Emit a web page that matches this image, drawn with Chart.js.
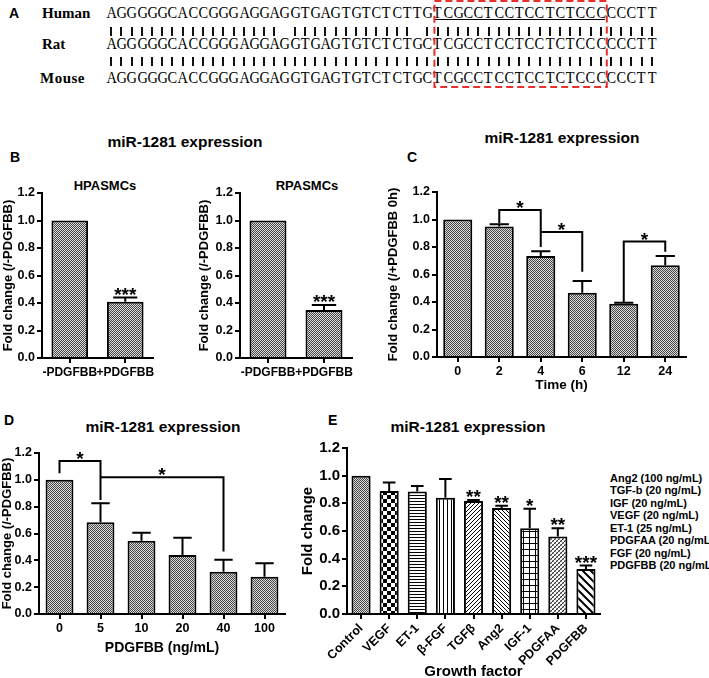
<!DOCTYPE html>
<html>
<head>
<meta charset="utf-8">
<script src="https://cdn.jsdelivr.net/npm/chart.js@4.4.1/dist/chart.umd.min.js"></script>
<style>
  body { margin: 0; width: 709px; height: 678px; overflow: hidden; background: #fff; position: relative;
         font-family: 'Liberation Sans', Arial, sans-serif; color: #000; }
  canvas { position: absolute; }
  .t { position: absolute; font-weight: bold; white-space: nowrap; line-height: 1; }
  .c { transform: translate(-50%, -50%); }
  .l { transform: translate(0, -50%); }
  .seq { position: absolute; font-family: 'Liberation Serif', 'Times New Roman', serif; font-size: 16px;
         line-height: 16px; width: 10.2px; text-align: center; transform: scaleX(0.9); }
  .tick { position: absolute; width: 2px; height: 9px; background: #111; }
</style>
</head>
<body>
<script>
"use strict";

// sequences (panel A)
const humanSeq = 'AGGGGGCACCGGGAGGAGGTGAGTGTCTCTTGTCGCCTCCTCCTCTCCCCCCTT';
const ratSeq = 'AGGGGGCACCGGGAGGAGGTGAGTGTCTCTGCTCGCCTCCTCCTCTCCCCCCTT';
const mouseSeq = 'AGGGGGCACCGGGAGGAGGTGAGTGTCTCTGCTCGCCTCCTCCTCTCCCCCCTT';
const seedStart = 32;
const seedEnd = 49;
const gapsHumanRat = [17, 30];

// panel B
const bLabels = ['-PDGFBB', '+PDGFBB'];
const hpasmcMean = [1.0, 0.41];
const hpasmcSem = [0, 0.03];
const rpasmcMean = [1.0, 0.35];
const rpasmcSem = [0, 0.035];
const bStars = ['', '***'];

// panel C
const timeLabels = ['0', '2', '4', '6', '12', '24'];
const timeMean = [1.0, 0.95, 0.735, 0.468, 0.388, 0.668];
const timeSem = [0, 0.015, 0.035, 0.085, 0.007, 0.067];
const timeBrackets = [
  { from: 1, to: 2, y: 1.07, fromY: 0.975, toY: 0.80 },
  { from: 2, to: 3, y: 0.91, fromY: 0.91, toY: 0.62 },
  { from: 4, to: 5, y: 0.84, fromY: 0.40, toY: 0.765 }
];

// panel D
const doseLabels = ['0', '5', '10', '20', '40', '100'];
const doseMean = [1.0, 0.683, 0.546, 0.44, 0.315, 0.278];
const doseSem = [0, 0.142, 0.06, 0.129, 0.09, 0.1];
const doseBrackets = [
  { from: 0, to: 1, y: 1.14, fromY: 1.05, toY: 0.85 },
  { from: 1, to: 4, y: 1.02, fromY: 1.02, toY: 0.465 }
];

// panel E
const factorLabels = ['Control', 'VEGF', 'ET-1', 'β-FGF', 'TGFβ', 'Ang2', 'IGF-1', 'PDGFAA', 'PDGFBB'];
const factorMean = [1.0, 0.889, 0.885, 0.84, 0.817, 0.766, 0.62, 0.56, 0.325];
const factorSem = [0, 0.061, 0.04, 0.136, 0.008, 0.017, 0.14, 0.06, 0.025];
const factorStars = ['', '', '', '', '**', '**', '*', '**', '***'];
const factorLegend = ['Ang2 (100 ng/mL)', 'TGF-b (20 ng/mL)', 'IGF (20 ng/mL)', 'VEGF (20 ng/mL)',
  'ET-1 (25 ng/mL)', 'PDGFAA (20 ng/mL)', 'FGF (20 ng/mL)', 'PDGFBB (20 ng/mL'];

const FONT = "'Liberation Sans', Arial, sans-serif";

// html text helper
function text(str, x, y, size, cls, extra) {
  const d = document.createElement('div');
  d.className = 't ' + cls;
  d.textContent = str;
  d.style.left = x + 'px';
  d.style.top = y + 'px';
  d.style.fontSize = size + 'px';
  if (extra) Object.assign(d.style, extra);
  document.body.appendChild(d);
  return d;
}

// ---- panel A ----
const pitch = 10.2;
const seqLeft = 106;
function seqRow(seq, top) {
  for (let i = 0; i < seq.length; i++) {
    const s = document.createElement('div');
    s.className = 'seq';
    s.textContent = seq[i];
    s.style.left = (seqLeft + i * pitch) + 'px';
    s.style.top = top + 'px';
    document.body.appendChild(s);
  }
}
function barRow(n, top, gaps) {
  for (let i = 0; i < n; i++) {
    if (gaps.includes(i)) continue;
    const b = document.createElement('div');
    b.className = 'tick';
    b.style.left = (seqLeft + (i + 0.5) * pitch - 1) + 'px';
    b.style.top = top + 'px';
    document.body.appendChild(b);
  }
}
const serifBold = { fontFamily: "'Liberation Serif', 'Times New Roman', serif" };
text('A', 9, 13, 14, 'l');
text('Human', 42, 13, 15, 'l', serifBold);
text('Rat', 42, 44, 15, 'l', serifBold);
text('Mouse', 40, 78, 15, 'l', Object.assign({ letterSpacing: '0.5px' }, serifBold));
seqRow(humanSeq, 5);
barRow(humanSeq.length, 27, gapsHumanRat);
seqRow(ratSeq, 35.5);
barRow(ratSeq.length, 57, []);
seqRow(mouseSeq, 70);

const ul = document.createElement('div');
ul.style.cssText = 'position:absolute;height:1px;background:#000;';
ul.style.left = (seqLeft + seedStart * pitch + 2) + 'px';
ul.style.width = ((seedEnd - seedStart) * pitch - 3) + 'px';
ul.style.top = '19px';
document.body.appendChild(ul);

const box = document.createElementNS('http://www.w3.org/2000/svg', 'svg');
box.setAttribute('width', '709');
box.setAttribute('height', '92');
box.style.cssText = 'position:absolute;left:0;top:0;';
const bx0 = seqLeft + seedStart * pitch + 2, bx1 = seqLeft + seedEnd * pitch + 1;
box.innerHTML = '<rect x="' + bx0 + '" y="1" width="' + (bx1 - bx0) + '" height="86" fill="none" ' +
  'stroke="#e5302c" stroke-width="2" stroke-dasharray="7,4"/>';
document.body.appendChild(box);

// ---- patterns ----
function pattern(size, draw) {
  const c = document.createElement('canvas');
  c.width = c.height = size;
  const g = c.getContext('2d');
  g.fillStyle = '#fff';
  g.fillRect(0, 0, size, size);
  g.fillStyle = '#000';
  g.strokeStyle = '#000';
  draw(g, size);
  return g.createPattern(c, 'repeat');
}
function diag(g, s, dir) {
  g.beginPath();
  if (dir > 0) {
    g.moveTo(-1, 1); g.lineTo(1, -1);
    g.moveTo(0, s); g.lineTo(s, 0);
    g.moveTo(s - 1, s + 1); g.lineTo(s + 1, s - 1);
  } else {
    g.moveTo(-1, s - 1); g.lineTo(1, s + 1);
    g.moveTo(0, 0); g.lineTo(s, s);
    g.moveTo(s - 1, -1); g.lineTo(s + 1, 1);
  }
  g.stroke();
}
const fineGray = pattern(2, (g) => {
  g.fillStyle = '#dcdcdc'; g.fillRect(0, 0, 2, 2);
  g.fillStyle = '#444'; g.fillRect(0, 0, 1, 1); g.fillRect(1, 1, 1, 1);
});
const checker = pattern(8, (g) => { g.fillRect(0, 0, 4, 4); g.fillRect(4, 4, 4, 4); });
const hLines = pattern(3, (g) => { g.fillRect(0, 0, 3, 1); });
const vLines = pattern(4, (g) => { g.fillRect(0, 0, 1, 4); });
const fwdFine = pattern(4, (g, s) => { g.lineWidth = 1; diag(g, s, 1); });
const backFine = pattern(4, (g, s) => { g.lineWidth = 1; diag(g, s, -1); });
const grid = pattern(6, (g) => { g.fillRect(0, 0, 6, 1); g.fillRect(0, 0, 1, 6); });
const crossFine = pattern(4, (g, s) => { g.lineWidth = 0.8; diag(g, s, 1); g.globalAlpha = 0.5; diag(g, s, -1); });
const backWide = pattern(8, (g, s) => { g.lineWidth = 2; diag(g, s, -1); });
const factorFills = [fineGray, checker, hLines, vLines, fwdFine, backFine, grid, crossFine, backWide];

// ---- error bars, stars and brackets ----
function marks(means, sems, stars, brackets) {
  return {
    id: 'marks',
    afterDatasetsDraw(chart) {
      const ctx = chart.ctx;
      const ys = chart.scales.y;
      const bars = chart.getDatasetMeta(0).data;
      ctx.save();
      ctx.strokeStyle = '#000';
      ctx.fillStyle = '#000';
      ctx.lineWidth = 2;
      ctx.textAlign = 'center';
      ctx.textBaseline = 'alphabetic';
      ctx.font = 'bold 19px ' + FONT;
      means.forEach((m, i) => {
        const bar = bars[i];
        let top = ys.getPixelForValue(m);
        if (sems[i]) {
          const e = ys.getPixelForValue(m + sems[i]);
          const half = bar.width * 0.33;
          ctx.beginPath();
          ctx.moveTo(bar.x, bar.y);
          ctx.lineTo(bar.x, e);
          ctx.moveTo(bar.x - half, e);
          ctx.lineTo(bar.x + half, e);
          ctx.stroke();
          top = e;
        }
        if (stars && stars[i]) ctx.fillText(stars[i], bar.x, top + 3);
      });
      (brackets || []).forEach((b) => {
        const xa = bars[b.from].x, xb = bars[b.to].x;
        const y = ys.getPixelForValue(b.y);
        ctx.beginPath();
        ctx.moveTo(xa, ys.getPixelForValue(b.fromY));
        ctx.lineTo(xa, y);
        ctx.lineTo(xb, y);
        ctx.lineTo(xb, ys.getPixelForValue(b.toY));
        ctx.stroke();
        ctx.fillText('*', (xa + xb) / 2, y + 4);
      });
      ctx.restore();
    }
  };
}

// ---- bar chart builder ----
function barChart(cfg) {
  const b = cfg.box, a = cfg.area;
  const cv = document.createElement('canvas');
  cv.width = b.w;
  cv.height = b.h;
  cv.style.left = b.x + 'px';
  cv.style.top = b.y + 'px';
  document.body.appendChild(cv);
  const rot = cfg.rotation || 0;
  const font = (size) => ({ family: FONT, weight: 'bold', size: size });
  new Chart(cv, {
    type: 'bar',
    data: {
      labels: cfg.labels,
      datasets: [{
        data: cfg.means,
        backgroundColor: cfg.fills,
        borderColor: '#000',
        borderWidth: 2,
        borderSkipped: 'start',
        barPercentage: cfg.barPct,
        categoryPercentage: 1
      }]
    },
    options: {
      responsive: false,
      animation: false,
      devicePixelRatio: 1,
      layout: { padding: { left: cfg.padL, top: a.t - b.y, right: b.x + b.w - a.r, bottom: 0 } },
      plugins: { legend: { display: false }, tooltip: { enabled: false } },
      scales: {
        x: {
          offset: true,
          grid: { offset: false, drawOnChartArea: false, tickLength: 5, color: '#000', lineWidth: 2 },
          border: { color: '#000', width: 2 },
          ticks: { color: '#000', font: font(cfg.xTick), autoSkip: false, minRotation: rot, maxRotation: rot, padding: 2 },
          title: { display: !!cfg.xTitle, text: cfg.xTitle, color: '#000', font: font(cfg.xTitleSize), padding: 0 },
          afterFit(s) { s.height = b.y + b.h - a.b; }
        },
        y: {
          min: 0,
          max: 1.2,
          grid: { drawOnChartArea: false, tickLength: 5, color: '#000', lineWidth: 2 },
          border: { color: '#000', width: 2 },
          ticks: { stepSize: 0.2, color: '#000', font: font(cfg.yTick), padding: 2, callback: (v) => v.toFixed(1) },
          title: { display: true, text: cfg.yTitle, color: '#000', font: font(cfg.yTitleSize), padding: 0 },
          afterFit(s) { s.width = a.l - b.x - cfg.padL; }
        }
      }
    },
    plugins: [marks(cfg.means, cfg.sems, cfg.stars, cfg.brackets)]
  });
}

// B
text('miR-1281 expression', 185, 142, 15.5, 'c');
text('B', 10, 157, 14, 'l');
text('HPASMCs', 105, 185, 13, 'c');
text('RPASMCs', 307, 185, 13, 'c');
barChart({
  box: { x: 0, y: 183, w: 160, h: 205 }, area: { l: 42, t: 193, r: 153, b: 358 }, padL: 1,
  labels: bLabels, means: hpasmcMean, sems: hpasmcSem, stars: bStars, fills: fineGray, barPct: 0.66,
  xTick: 12, yTick: 12.5, yTitle: 'Fold change (/-PDGFBB)', yTitleSize: 13
});
barChart({
  box: { x: 190, y: 183, w: 170, h: 205 }, area: { l: 240, t: 193, r: 352, b: 358 }, padL: 7,
  labels: bLabels, means: rpasmcMean, sems: rpasmcSem, stars: bStars, fills: fineGray, barPct: 0.66,
  xTick: 12, yTick: 12.5, yTitle: 'Fold change (/-PDGFBB)', yTitleSize: 13
});

// C
text('miR-1281 expression', 562, 138, 15.5, 'c');
text('C', 407, 157, 14, 'l');
barChart({
  box: { x: 380, y: 180, w: 329, h: 213 }, area: { l: 437, t: 192, r: 686, b: 357 }, padL: 6,
  labels: timeLabels, means: timeMean, sems: timeSem, brackets: timeBrackets, fills: fineGray, barPct: 0.7,
  xTick: 12.5, yTick: 12.5, yTitle: 'Fold change (/+PDGFBB 0h)', yTitleSize: 13, xTitle: 'Time (h)', xTitleSize: 13.5
});

// D
text('miR-1281 expression', 163, 427, 15.5, 'c');
text('D', 4, 420, 14, 'l');
barChart({
  box: { x: 0, y: 440, w: 300, h: 217 }, area: { l: 39, t: 453, r: 285, b: 614 }, padL: 0,
  labels: doseLabels, means: doseMean, sems: doseSem, brackets: doseBrackets, fills: fineGray, barPct: 0.68,
  xTick: 12.5, yTick: 12.5, yTitle: 'Fold change (/-PDGFBB)', yTitleSize: 13, xTitle: 'PDGFBB (ng/mL)', xTitleSize: 14
});

// E
text('miR-1281 expression', 468, 427, 15.5, 'c');
text('E', 328, 420, 14, 'l');
barChart({
  box: { x: 295, y: 435, w: 310, h: 246 }, area: { l: 347, t: 448, r: 600, b: 614 }, padL: 4,
  labels: factorLabels, means: factorMean, sems: factorSem, stars: factorStars, fills: factorFills, barPct: 0.68,
  xTick: 12.5, yTick: 15, yTitle: 'Fold change', yTitleSize: 15, xTitle: 'Growth factor', xTitleSize: 15, rotation: 45
});
factorLegend.forEach((s, i) => text(s, 610, 478 + i * 12.43, 11, 'l'));
</script>
</body>
</html>
